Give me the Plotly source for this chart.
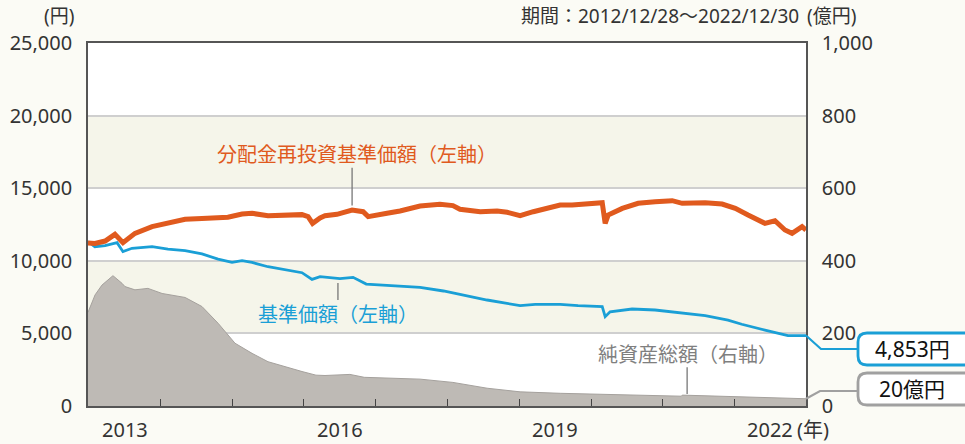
import plotly.graph_objects as go

# ---------------- data ----------------
nav_re_dates = ["2012-12-28","2013-02-01","2013-03-25","2013-05-14","2013-06-24","2013-08-24","2013-11-19",
    "2014-02-08","2014-05-06","2014-07-31","2014-10-21","2014-12-10","2015-02-20","2015-04-12","2015-07-02",
    "2015-09-27","2015-12-22","2016-01-22","2016-02-14","2016-03-23","2016-04-17","2016-06-17","2016-09-02",
    "2016-10-28","2016-11-23","2017-02-27","2017-05-04","2017-08-14","2017-11-23","2018-01-28","2018-03-05",
    "2018-06-16","2018-09-10","2018-10-31","2019-01-05","2019-03-13","2019-06-07","2019-07-28","2019-09-27",
    "2019-12-18","2020-02-27","2020-03-13","2020-03-28","2020-06-08","2020-08-28","2020-11-22","2021-02-17",
    "2021-04-09","2021-08-04","2021-10-29","2022-01-04","2022-03-10","2022-06-04","2022-07-25","2022-09-14",
    "2022-10-20","2022-12-10","2022-12-30"]
nav_re_values = [11230,11200,11360,11820,11250,11890,12350,
    12620,12860,12920,12970,13000,13220,13270,13110,
    13130,13180,13050,12580,12950,13100,13200,13500,
    13380,13040,13270,13430,13770,13890,13800,13550,
    13380,13430,13340,13110,13380,13680,13840,13840,
    13910,14000,12580,13150,13610,13960,14070,14140,
    13960,14000,13910,13610,13150,12580,12760,12120,
    11890,12350,12120]

nav_dates = ["2012-12-28","2013-02-01","2013-03-25","2013-05-25","2013-06-24","2013-08-09","2013-11-19",
    "2014-02-08","2014-05-06","2014-07-31","2014-10-21","2014-12-31","2015-02-20","2015-04-12","2015-07-02",
    "2015-09-27","2015-12-22","2016-02-11","2016-03-23","2016-07-02","2016-09-07","2016-11-13","2017-02-27",
    "2017-08-14","2017-12-11","2018-04-20","2018-07-21","2019-01-05","2019-03-23","2019-07-28","2019-10-27",
    "2020-02-27","2020-03-13","2020-04-07","2020-07-28","2020-11-22","2021-04-09","2021-08-04","2021-11-28",
    "2022-02-06","2022-06-04","2022-09-29","2022-12-30"]
nav_values = [11320,10970,11040,11250,10630,10860,10970,
    10810,10700,10470,10120,9890,10010,9890,9590,
    9370,9180,8720,8910,8770,8860,8400,8310,
    8170,7920,7530,7300,6910,7000,7000,6910,
    6840,6150,6490,6680,6610,6380,6220,5920,
    5630,5230,4840,4853]

aum_dates = ["2012-12-28","2013-02-02","2013-03-09","2013-05-04","2013-06-19","2013-07-04","2013-08-24",
    "2013-10-29","2014-01-09","2014-04-20","2014-05-06","2014-07-31","2014-10-21","2015-01-15","2015-04-12",
    "2015-07-02","2015-09-27","2015-12-22","2016-03-02","2016-04-17","2016-08-22","2016-11-03","2017-08-14",
    "2018-01-28","2018-07-21","2019-01-05","2019-07-28","2020-06-01","2021-04-05","2021-04-09","2022-12-30"]
aum_values = [258,306,333,359,338,329,320,
    324,310,299,299,274,228,173,145,
    122,108,95,85,84,87,79,74,
    65,49,39,35,31,27,30,20]

year_ticks = ["2014-01-01","2015-01-01","2016-01-01","2017-01-01","2018-01-01",
              "2019-01-01","2020-01-01","2021-01-01","2022-01-01"]
year_label_dates = ["2013-07-02","2016-07-01","2019-07-02","2022-07-02"]
year_labels = ["2013","2016","2019","2022"]

left_ticks = [0,5000,10000,15000,20000,25000]
right_ticks = [0,200,400,600,800,1000]

# ---------------- style ----------------
FONT = "Noto Sans, Noto Sans CJK JP"
ORANGE = "#e05a1e"
BLUE = "#1a9fd6"
GREY_TXT = "#7f7f7f"
AREA = "#bebab5"
TXT = "#333333"
PAPER = "#fbfbf5"
BAND = "#f5f5ea"

L, R, T, B = 88, 159, 43, 38
W, H = 965, 444
PW, PH = W - L - R, H - T - B

def px_x(px):
    return (px - L) / PW

def px_y(py):
    return (H - B - py) / PH

fig = go.Figure()

fig.add_trace(go.Scatter(x=aum_dates, y=aum_values, yaxis="y", mode="lines",
                         line=dict(color="#a5a19d", width=1), fill="tozeroy",
                         fillcolor=AREA, hoverinfo="skip", showlegend=False))
fig.add_trace(go.Scatter(x=nav_dates, y=nav_values, yaxis="y2", mode="lines",
                         line=dict(color=BLUE, width=2.8), showlegend=False))
fig.add_trace(go.Scatter(x=nav_re_dates, y=nav_re_values, yaxis="y2", mode="lines",
                         line=dict(color=ORANGE, width=5), showlegend=False))

shapes = []
for lo, hi in [(5000, 10000), (15000, 20000)]:
    shapes.append(dict(type="rect", xref="paper", yref="y2", x0=0, x1=1, y0=lo, y1=hi,
                       fillcolor=BAND, line=dict(width=0), layer="below"))

shapes.append(dict(type="line", xref="x", yref="y2", x0="2016-09-02", x1="2016-09-02",
                   y0=16400, y1=13800, line=dict(color="#777777", width=1.3)))
shapes.append(dict(type="line", xref="x", yref="y2", x0="2016-06-22", x1="2016-06-22",
                   y0=8470, y1=7300, line=dict(color="#777777", width=1.3)))
shapes.append(dict(type="line", xref="x", yref="y", x0="2021-05-04", x1="2021-05-04",
                   y0=107, y1=33, line=dict(color="#777777", width=1.3)))

def rounded_path(x0p, x1p, y0p, y1p, r):
    def P(x, y):
        return f"{px_x(x):.5f},{px_y(y):.5f}"
    return (f"M {P(x0p + r, y0p)} L {P(x1p - r, y0p)} Q {P(x1p, y0p)} {P(x1p, y0p + r)} "
            f"L {P(x1p, y1p - r)} Q {P(x1p, y1p)} {P(x1p - r, y1p)} "
            f"L {P(x0p + r, y1p)} Q {P(x0p, y1p)} {P(x0p, y1p - r)} "
            f"L {P(x0p, y0p + r)} Q {P(x0p, y0p)} {P(x0p + r, y0p)} Z")

shapes.append(dict(type="path", xref="paper", yref="paper",
                   path=rounded_path(858, 985, 333, 365, 9),
                   fillcolor="white", line=dict(color=BLUE, width=2.8)))
shapes.append(dict(type="path", xref="paper", yref="paper",
                   path=rounded_path(858, 985, 373, 405, 9),
                   fillcolor="white", line=dict(color="#a0a0a0", width=2.8)))

yb = nav_values[-1] / left_ticks[-1]
shapes.append(dict(type="path", xref="paper", yref="paper",
                   path=f"M 1,{yb:.5f} L {px_x(821):.5f},{px_y(349):.5f} L {px_x(858):.5f},{px_y(349):.5f}",
                   line=dict(color=BLUE, width=2.2)))
yg = aum_values[-1] / right_ticks[-1]
shapes.append(dict(type="path", xref="paper", yref="paper",
                   path=f"M 1,{yg:.5f} L {px_x(820):.5f},{px_y(391):.5f} L {px_x(858):.5f},{px_y(391):.5f}",
                   line=dict(color="#a0a0a0", width=2.2)))

def ann(x, y, text, xref="paper", yref="paper", xanchor="center", size=20, color=TXT):
    return dict(x=x, y=y, xref=xref, yref=yref, text=text, showarrow=False,
                xanchor=xanchor, yanchor="middle",
                font=dict(family=FONT, size=size, color=color))

annotations = [
    ann("2016-09-28", 17300, "分配金再投資基準価額（左軸）", "x", "y2", color=ORANGE),
    ann("2016-06-22", 6270, "基準価額（左軸）", "x", "y2", color=BLUE),
    ann("2021-05-09", 143, "純資産総額（右軸）", "x", "y", color=GREY_TXT),
    ann(px_x(912), px_y(349), f"{nav_values[-1]:,}円", size=21, color="#111111"),
    ann(px_x(912), px_y(389), f"{aum_values[-1]}億円", size=21, color="#111111"),
]
for d, t in zip(year_label_dates, year_labels):
    annotations.append(ann(d, px_y(429), t, "x", "paper", size=20))
annotations.append(ann(px_x(795), px_y(429), "(年)", xanchor="left", size=20))
annotations.append(ann(px_x(59), px_y(16), "(円)", size=19))
annotations.append(ann(px_x(801), px_y(16), "期間：2012/12/28～2022/12/30", xanchor="right", size=19))
annotations.append(ann(px_x(805), px_y(16), "(億円)", xanchor="left", size=19))

fig.update_layout(
    width=W, height=H,
    margin=dict(l=L, r=R, t=T, b=B, pad=0, autoexpand=False),
    paper_bgcolor=PAPER, plot_bgcolor="white",
    font=dict(family=FONT, size=20, color=TXT),
    showlegend=False,
    xaxis=dict(type="date", range=["2012-12-28", "2022-12-30"],
               tickvals=year_ticks, ticks="inside", ticklen=7, tickwidth=1.3,
               tickcolor="#444444", showticklabels=False, showgrid=False,
               showline=True, linecolor="#555555", linewidth=1.6, mirror=True, zeroline=False),
    yaxis=dict(side="right", range=[0, 1000], tickvals=right_ticks, tickformat=",",
               showgrid=True, gridcolor="#cfcfcf", gridwidth=1.5,
               showline=True, linecolor="#555555", linewidth=1.6, ticks="",
               ticklabelstandoff=10, zeroline=False,
               tickfont=dict(family=FONT, size=20, color=TXT)),
    yaxis2=dict(side="left", overlaying="y", range=[0, 25000], tickvals=left_ticks, tickformat=",",
                showgrid=False, showline=True, linecolor="#555555", linewidth=1.6, ticks="",
                ticklabelstandoff=10, zeroline=False,
                tickfont=dict(family=FONT, size=20, color=TXT)),
    shapes=shapes,
    annotations=annotations,
)

fig.write_html("out.html", config={"displayModeBar": False},
               post_script="document.body.style.margin='0px';")
